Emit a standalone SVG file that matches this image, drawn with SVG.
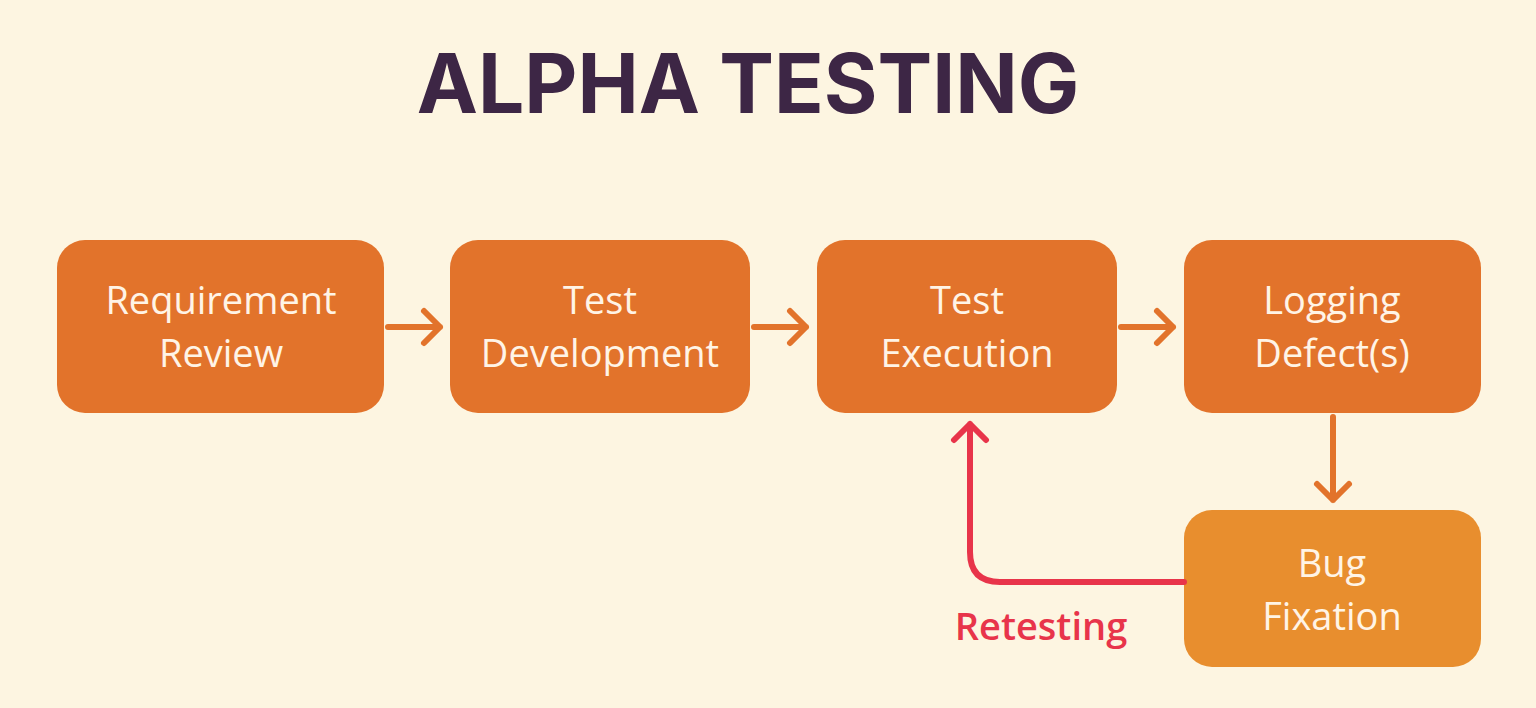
<svg xmlns="http://www.w3.org/2000/svg" width="1536" height="708" viewBox="0 0 1536 708">
<style>
.n{fill:#E2732B}
.t{font-family:"Open Sans","Liberation Sans",sans-serif;font-size:38px;fill:#FFF4E6;text-anchor:middle;font-weight:500}
.c{fill:none;stroke:#E2732B;stroke-width:6;stroke-linecap:round;stroke-linejoin:round}
</style>
<rect width="1536" height="708" fill="#FDF5E1"/>
<text x="748" y="113" font-family="Inter,'Liberation Sans',sans-serif" font-weight="700" font-size="82" fill="#3D2645" text-anchor="middle">ALPHA TESTING</text>
<g id="n1"><rect class="n" x="57" y="240" width="327" height="173" rx="28"/><text class="t" x="221" y="314">Requirement</text><text class="t" x="221" y="367">Review</text></g>
<g id="n2"><rect class="n" x="450" y="240" width="300" height="173" rx="28"/><text class="t" x="600" y="314">Test</text><text class="t" x="600" y="367">Development</text></g>
<g id="n3"><rect class="n" x="817" y="240" width="300" height="173" rx="28"/><text class="t" x="967" y="314">Test</text><text class="t" x="967" y="367">Execution</text></g>
<g id="n4"><rect class="n" x="1184" y="240" width="297" height="173" rx="28"/><text class="t" x="1332" y="314">Logging</text><text class="t" x="1332" y="367">Defect(s)</text></g>
<g id="n5"><rect x="1184" y="510" width="297" height="157" rx="28" fill="#E88E2E"/><text class="t" x="1332" y="577">Bug</text><text class="t" x="1332" y="630">Fixation</text></g>
<g id="connectors">
<path class="c" d="M388 327H440M424 311L440 327L424 343"/>
<path class="c" d="M754 327H806M790 311L806 327L790 343"/>
<path class="c" d="M1121 327H1173M1157 311L1173 327L1157 343"/>
<path class="c" d="M1333 417V500M1317 484L1333 500L1349 484"/>
<path d="M1184 582H1000Q970 582 970 552V424M954 440L970 424L986 440" fill="none" stroke="#E8344A" stroke-width="6" stroke-linecap="round" stroke-linejoin="round"/>
<text x="1041" y="640" font-family="'Open Sans','Liberation Sans',sans-serif" font-size="38" font-weight="600" fill="#E8344A" text-anchor="middle">Retesting</text>
</g>
</svg>
